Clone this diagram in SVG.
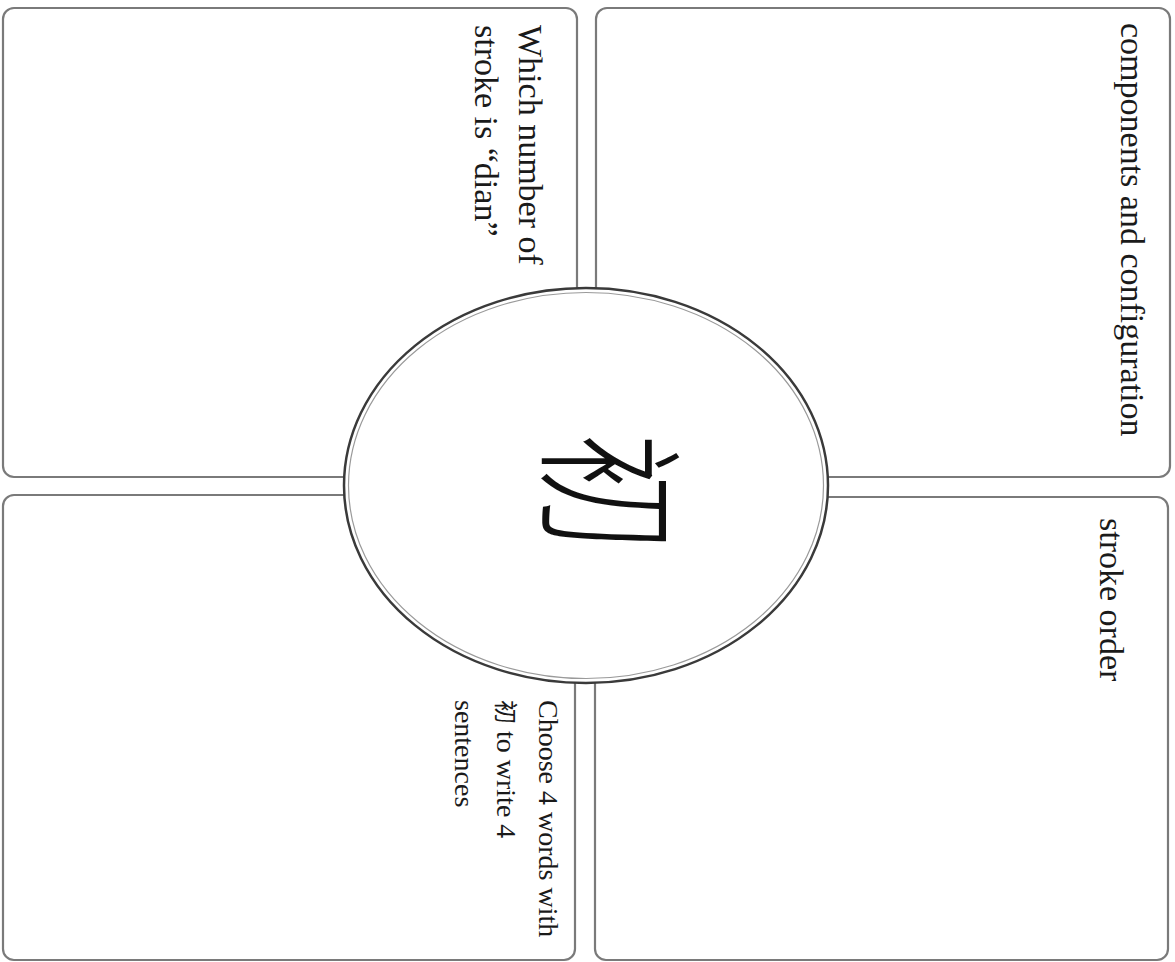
<svg xmlns="http://www.w3.org/2000/svg" width="1175" height="962" viewBox="0 0 1175 962">
<style>
.box{fill:#fff;stroke:#7a7a7a;stroke-width:2.2}
.lbl{font-family:"Liberation Serif","Times New Roman",serif;fill:#1a1a1a}
.cjk{font-family:"Noto Sans CJK SC","Noto Sans CJK JP",sans-serif}
</style>
<rect width="1175" height="962" fill="#fff"/>
<g id="connectors"></g>
<g id="box-top-left">
<rect class="box" x="3" y="8" width="574" height="469" rx="11"/>
<text class="lbl" font-size="34" transform="translate(519,25) rotate(90)">Which number of</text>
<text class="lbl" font-size="34" transform="translate(475,25) rotate(90)">stroke is “dian”</text>
</g>
<g id="box-top-right">
<rect class="box" x="596" y="8" width="574" height="469" rx="11"/>
<text class="lbl" font-size="34" transform="translate(1121,23) rotate(90)">components and configuration</text>
</g>
<g id="box-bottom-left">
<rect class="box" x="3" y="495" width="572" height="465" rx="11"/>
<text class="lbl" font-size="28" transform="translate(539,700) rotate(90)">Choose 4 words with</text>
<text class="lbl" font-size="28" transform="translate(497,700) rotate(90)"><tspan class="cjk" font-size="24">初</tspan> to write 4</text>
<text class="lbl" font-size="28" transform="translate(455,700) rotate(90)">sentences</text>
</g>
<g id="box-bottom-right">
<rect class="box" x="595" y="497" width="573" height="463" rx="11"/>
<text class="lbl" font-size="34" transform="translate(1100,518) rotate(90)">stroke order</text>
</g>
<g id="center">
<ellipse cx="586" cy="485.5" rx="242" ry="197.5" fill="#fff" stroke="#3a3a3a" stroke-width="2.5"/>
<ellipse cx="586" cy="485.5" rx="237.5" ry="193" fill="none" stroke="#9a9a9a" stroke-width="1.2"/>
<text class="cjk" font-size="118" font-weight="300" fill="#111" text-anchor="middle" dominant-baseline="central" transform="translate(619,492) rotate(90) scale(1,1.28)">初</text>
</g>
</svg>
